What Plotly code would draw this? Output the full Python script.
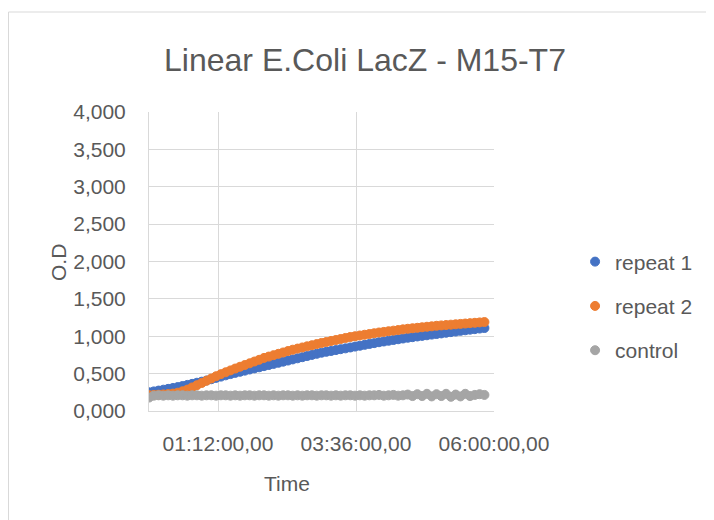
import plotly.graph_objects as go

# readings every 5 minutes
minutes = [0, 5, 10, 15, 20, 25, 30, 35, 40, 45, 50, 55, 60, 65, 70, 75, 80, 85, 90, 95,
           100, 105, 110, 115, 120, 125, 130, 135, 140, 145, 150, 155, 160, 165, 170, 175,
           180, 185, 190, 195, 200, 205, 210, 215, 220, 225, 230, 235, 240, 245, 250, 255,
           260, 265, 270, 275, 280, 285, 290, 295, 300, 305, 310, 315, 320, 325, 330, 335,
           340, 345, 350]

repeat_1 = [0.250, 0.262, 0.273, 0.285, 0.296, 0.308, 0.320, 0.334, 0.349, 0.363, 0.378, 0.392,
            0.408, 0.425, 0.443, 0.460, 0.477, 0.494, 0.510, 0.525, 0.540, 0.555, 0.570, 0.585,
            0.600, 0.615, 0.630, 0.645, 0.660, 0.675, 0.690, 0.705, 0.720, 0.735, 0.750, 0.765,
            0.780, 0.792, 0.803, 0.815, 0.827, 0.838, 0.850, 0.862, 0.873, 0.885, 0.897, 0.908,
            0.920, 0.930, 0.940, 0.950, 0.960, 0.970, 0.980, 0.988, 0.997, 1.005, 1.013, 1.022,
            1.030, 1.038, 1.047, 1.055, 1.063, 1.072, 1.080, 1.088, 1.095, 1.103, 1.110]

repeat_2 = [0.212, 0.215, 0.218, 0.222, 0.227, 0.233, 0.245, 0.264, 0.286, 0.315, 0.345, 0.375,
            0.405, 0.435, 0.465, 0.493, 0.518, 0.543, 0.568, 0.592, 0.615, 0.638, 0.662, 0.685,
            0.710, 0.728, 0.747, 0.765, 0.783, 0.802, 0.820, 0.835, 0.850, 0.865, 0.880, 0.895,
            0.910, 0.923, 0.937, 0.950, 0.963, 0.977, 0.990, 1.000, 1.010, 1.020, 1.030, 1.040,
            1.050, 1.058, 1.067, 1.075, 1.083, 1.092, 1.100, 1.107, 1.113, 1.120, 1.127, 1.133,
            1.140, 1.145, 1.150, 1.155, 1.160, 1.165, 1.170, 1.175, 1.180, 1.185, 1.190]

control = [0.18, 0.205, 0.21, 0.205, 0.21, 0.205, 0.21, 0.21, 0.205, 0.21, 0.21, 0.205,
           0.21, 0.21, 0.205, 0.21, 0.21, 0.205, 0.21, 0.205, 0.21, 0.21, 0.205, 0.21,
           0.21, 0.205, 0.21, 0.205, 0.21, 0.21, 0.205, 0.21, 0.205, 0.21, 0.21, 0.205,
           0.21, 0.21, 0.205, 0.21, 0.205, 0.21, 0.21, 0.205, 0.21, 0.205, 0.21, 0.21,
           0.215, 0.205, 0.21, 0.215, 0.205, 0.21, 0.22, 0.20, 0.225, 0.20, 0.23, 0.195,
           0.225, 0.20, 0.23, 0.19, 0.22, 0.195, 0.23, 0.20, 0.215, 0.225, 0.215]

x_tick_vals = [1.2, 3.6, 6.0]
x_tick_text = ["01:12:00,00", "03:36:00,00", "06:00:00,00"]

series = [
    ("repeat 1", repeat_1, "#4472C4"),
    ("repeat 2", repeat_2, "#ED7D31"),
    ("control", control, "#A5A5A5"),
]

hours = [m / 60 for m in minutes]
text_color = "#595959"
grid_color = "#D9D9D9"
font_name = "Liberation Sans"

fig = go.Figure()
for name, values, color in series:
    fig.add_trace(go.Scatter(
        x=hours,
        y=values,
        mode="markers",
        name=name,
        legendgroup=name,
        marker=dict(size=9, color=color, line=dict(width=1, color=color)),
    ))

fig.update_layout(
    width=714,
    height=520,
    margin=dict(l=141, r=228, t=104, b=117),
    paper_bgcolor="white",
    plot_bgcolor="white",
    separators=", ",
    font=dict(family=font_name, size=21, color=text_color),
    title=dict(
        text="Linear E.Coli LacZ - M15-T7",
        x=0.5, xanchor="center",
        y=0.9, yanchor="middle",
        font=dict(family=font_name, size=32, color=text_color),
    ),
    legend=dict(
        x=1.235, xanchor="left",
        y=0.567, yanchor="top",
        tracegroupgap=14,
        font=dict(family=font_name, size=21, color=text_color),
        bgcolor="rgba(0,0,0,0)",
    ),
    xaxis=dict(
        range=[0, 6],
        tickvals=x_tick_vals,
        ticktext=x_tick_text,
        showgrid=True,
        gridcolor=grid_color,
        showline=True,
        linecolor=grid_color,
        zeroline=False,
        ticks="",
        ticklabelstandoff=14,
    ),
    yaxis=dict(
        range=[0, 4],
        dtick=0.5,
        tickformat=".3f",
        showgrid=True,
        gridcolor=grid_color,
        showline=True,
        linecolor=grid_color,
        zeroline=False,
        ticks="",
        ticklabelstandoff=18,
    ),
    annotations=[
        dict(text="Time", x=0.40, y=-0.241, xref="paper", yref="paper",
             showarrow=False, xanchor="center", yanchor="middle",
             font=dict(family=font_name, size=21, color=text_color)),
        dict(text="O.D", x=-0.264, y=0.498, xref="paper", yref="paper",
             showarrow=False, xanchor="center", yanchor="middle", textangle=-90,
             font=dict(family=font_name, size=21, color=text_color)),
    ],
    # outer chart-area frame (left edge sits on the figure's first pixel column)
    shapes=[
        dict(type="rect", xref="paper", yref="paper",
             x0=-0.4072, x1=1.7, y0=-0.42, y1=1.3344,
             line=dict(color=grid_color, width=1), layer="below"),
    ],
)

fig.write_html("out.html")
